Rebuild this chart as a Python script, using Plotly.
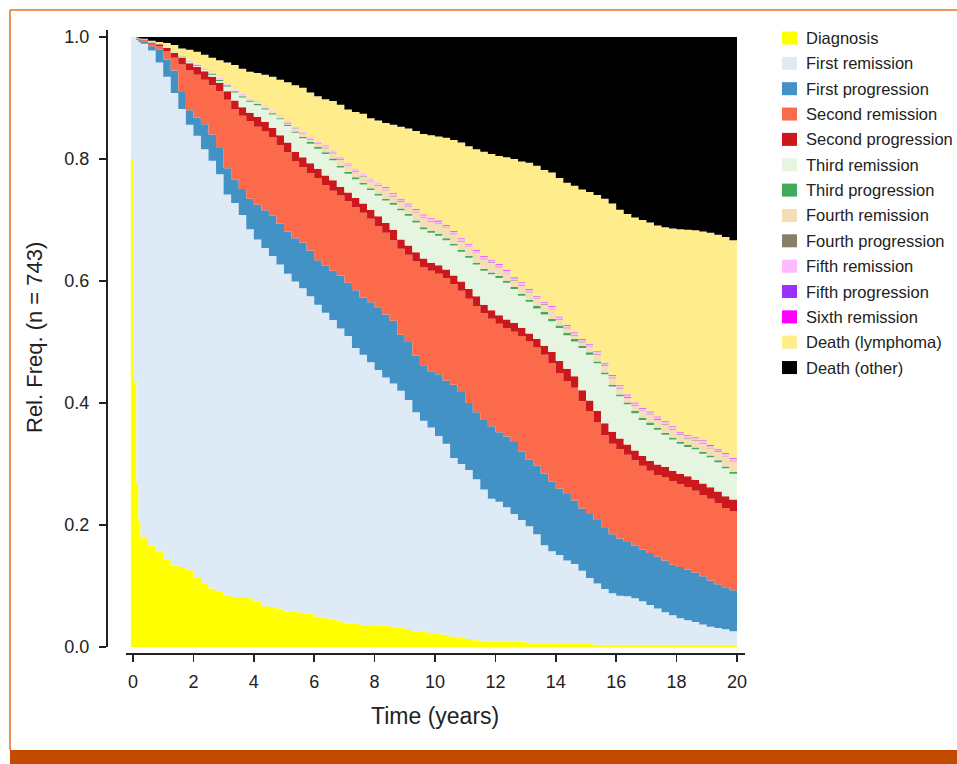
import numpy as np
import plotly.graph_objects as go

# ---------------- data ----------------
years = [-0.07, 0, 0.11, 0.18,
         0.25, 0.5, 0.75, 1, 1.25, 1.5, 1.75, 2,
         2.25, 2.5, 2.75, 3, 3.25, 3.5, 3.75, 4,
         4.25, 4.5, 4.75, 5, 5.25, 5.5, 5.75, 6,
         6.25, 6.5, 6.75, 7, 7.25, 7.5, 7.75, 8,
         8.25, 8.5, 8.75, 9, 9.25, 9.5, 9.75, 10,
         10.25, 10.5, 10.75, 11, 11.25, 11.5, 11.75, 12,
         12.25, 12.5, 12.75, 13, 13.25, 13.5, 13.75, 14,
         14.25, 14.5, 14.75, 15, 15.25, 15.5, 15.75, 16,
         16.25, 16.5, 16.75, 17, 17.25, 17.5, 17.75, 18,
         18.25, 18.5, 18.75, 19, 19.25, 19.5, 19.75, 20]

# upper edge (cumulative relative frequency) of each state band
diagnosis_top = [0.80, 0.435, 0.269, 0.205,
    0.180, 0.167, 0.157, 0.143, 0.133, 0.131, 0.126, 0.113,
    0.104, 0.096, 0.090, 0.085, 0.082, 0.082, 0.080, 0.074,
    0.067, 0.066, 0.063, 0.058, 0.058, 0.056, 0.055, 0.050,
    0.047, 0.045, 0.041, 0.038, 0.038, 0.036, 0.036, 0.035,
    0.035, 0.033, 0.032, 0.028, 0.026, 0.025, 0.023, 0.022,
    0.020, 0.017, 0.016, 0.013, 0.011, 0.009, 0.009, 0.009,
    0.009, 0.009, 0.009, 0.006, 0.006, 0.006, 0.006, 0.006,
    0.006, 0.006, 0.006, 0.005, 0.003, 0.003, 0.003, 0.003,
    0.003, 0.003, 0.003, 0.003, 0.003, 0.003, 0.003, 0.003,
    0.003, 0.003, 0.003, 0.003, 0.003, 0.003, 0.003, 0.003]

first_remission_top = [1.0, 1.0, 0.995, 0.992,
    0.989, 0.978, 0.958, 0.935, 0.908, 0.882, 0.856, 0.838,
    0.816, 0.797, 0.775, 0.742, 0.728, 0.708, 0.685, 0.668,
    0.654, 0.641, 0.627, 0.612, 0.599, 0.588, 0.575, 0.561,
    0.548, 0.536, 0.522, 0.510, 0.490, 0.479, 0.467, 0.454,
    0.442, 0.432, 0.420, 0.405, 0.385, 0.371, 0.360, 0.346,
    0.333, 0.310, 0.300, 0.290, 0.275, 0.258, 0.243, 0.238,
    0.229, 0.218, 0.208, 0.198, 0.185, 0.167, 0.157, 0.151,
    0.142, 0.136, 0.125, 0.113, 0.104, 0.095, 0.088, 0.084,
    0.083, 0.080, 0.075, 0.069, 0.063, 0.057, 0.052, 0.047,
    0.044, 0.041, 0.037, 0.033, 0.031, 0.029, 0.026, 0.025]

first_progression_top = [1.0, 1.0, 0.997, 0.995,
    0.993, 0.985, 0.979, 0.963, 0.945, 0.910, 0.880, 0.868,
    0.857, 0.840, 0.818, 0.785, 0.766, 0.751, 0.735, 0.725,
    0.716, 0.707, 0.694, 0.681, 0.670, 0.663, 0.650, 0.634,
    0.625, 0.617, 0.609, 0.597, 0.585, 0.573, 0.565, 0.557,
    0.545, 0.535, 0.512, 0.500, 0.478, 0.462, 0.452, 0.447,
    0.437, 0.430, 0.418, 0.400, 0.385, 0.372, 0.362, 0.352,
    0.345, 0.336, 0.320, 0.307, 0.297, 0.284, 0.271, 0.260,
    0.251, 0.240, 0.227, 0.218, 0.208, 0.195, 0.185, 0.178,
    0.172, 0.166, 0.160, 0.154, 0.148, 0.142, 0.135, 0.131,
    0.127, 0.122, 0.116, 0.109, 0.103, 0.098, 0.093, 0.088]

second_remission_top = [1.0, 1.0, 0.998, 0.997,
    0.995, 0.989, 0.985, 0.977, 0.966, 0.955, 0.945, 0.938,
    0.930, 0.921, 0.911, 0.897, 0.882, 0.871, 0.862, 0.853,
    0.845, 0.836, 0.823, 0.811, 0.796, 0.787, 0.777, 0.769,
    0.757, 0.748, 0.740, 0.731, 0.721, 0.712, 0.702, 0.690,
    0.679, 0.667, 0.653, 0.643, 0.632, 0.623, 0.617, 0.612,
    0.605, 0.595, 0.584, 0.571, 0.559, 0.547, 0.538, 0.530,
    0.523, 0.517, 0.510, 0.501, 0.491, 0.479, 0.465, 0.449,
    0.436, 0.425, 0.403, 0.386, 0.368, 0.347, 0.333, 0.324,
    0.315, 0.306, 0.297, 0.289, 0.282, 0.278, 0.272, 0.267,
    0.262, 0.256, 0.249, 0.243, 0.236, 0.228, 0.222, 0.218]

second_progression_top = [1.0, 1.0, 0.998, 0.997,
    0.996, 0.991, 0.988, 0.982, 0.974, 0.966, 0.957, 0.951,
    0.944, 0.935, 0.925, 0.911, 0.896, 0.885, 0.876, 0.869,
    0.861, 0.851, 0.839, 0.827, 0.812, 0.803, 0.793, 0.784,
    0.773, 0.765, 0.754, 0.745, 0.736, 0.727, 0.717, 0.706,
    0.695, 0.684, 0.668, 0.658, 0.647, 0.637, 0.630, 0.626,
    0.619, 0.609, 0.599, 0.587, 0.575, 0.561, 0.552, 0.544,
    0.537, 0.531, 0.523, 0.514, 0.505, 0.494, 0.484, 0.469,
    0.456, 0.444, 0.421, 0.404, 0.387, 0.367, 0.353, 0.342,
    0.332, 0.322, 0.313, 0.305, 0.299, 0.295, 0.289, 0.284,
    0.280, 0.274, 0.268, 0.262, 0.255, 0.247, 0.242, 0.238]

third_progression_top = [1.0, 1.0, 0.998, 0.997,
    0.996, 0.992, 0.989, 0.983, 0.976, 0.968, 0.960, 0.954,
    0.948, 0.940, 0.930, 0.921, 0.911, 0.903, 0.896, 0.890,
    0.883, 0.875, 0.867, 0.856, 0.845, 0.836, 0.828, 0.820,
    0.811, 0.801, 0.789, 0.779, 0.770, 0.761, 0.752, 0.743,
    0.735, 0.728, 0.719, 0.710, 0.699, 0.688, 0.682, 0.677,
    0.670, 0.661, 0.651, 0.641, 0.630, 0.620, 0.614, 0.608,
    0.600, 0.590, 0.579, 0.569, 0.559, 0.549, 0.538, 0.527,
    0.515, 0.505, 0.494, 0.483, 0.468, 0.450, 0.430, 0.414,
    0.401, 0.387, 0.376, 0.368, 0.359, 0.351, 0.343, 0.336,
    0.331, 0.327, 0.320, 0.314, 0.306, 0.296, 0.287, 0.280]

all_states_top = [1.0, 1.0, 0.999, 0.998,
    0.997, 0.994, 0.990, 0.984, 0.977, 0.970, 0.962, 0.956,
    0.950, 0.942, 0.933, 0.924, 0.914, 0.907, 0.901, 0.895,
    0.888, 0.880, 0.872, 0.862, 0.853, 0.845, 0.836, 0.829,
    0.822, 0.814, 0.803, 0.793, 0.784, 0.776, 0.768, 0.761,
    0.754, 0.744, 0.735, 0.727, 0.718, 0.709, 0.703, 0.699,
    0.692, 0.682, 0.670, 0.661, 0.651, 0.641, 0.635, 0.628,
    0.618, 0.606, 0.598, 0.587, 0.576, 0.566, 0.559, 0.542,
    0.528, 0.516, 0.505, 0.497, 0.485, 0.466, 0.446, 0.429,
    0.414, 0.401, 0.392, 0.386, 0.378, 0.370, 0.362, 0.353,
    0.347, 0.344, 0.339, 0.331, 0.325, 0.318, 0.310, 0.307]

death_lymphoma_top = [1.0, 1.0, 0.999, 0.998,
    0.997, 0.994, 0.992, 0.990, 0.987, 0.981, 0.979, 0.976,
    0.971, 0.966, 0.962, 0.958, 0.954, 0.948, 0.943, 0.941,
    0.938, 0.935, 0.930, 0.926, 0.921, 0.917, 0.909, 0.903,
    0.898, 0.895, 0.889, 0.881, 0.877, 0.874, 0.867, 0.863,
    0.859, 0.856, 0.853, 0.850, 0.846, 0.841, 0.839, 0.837,
    0.835, 0.831, 0.827, 0.821, 0.816, 0.812, 0.808, 0.805,
    0.803, 0.800, 0.796, 0.794, 0.789, 0.782, 0.778, 0.769,
    0.761, 0.756, 0.750, 0.746, 0.741, 0.735, 0.727, 0.717,
    0.710, 0.704, 0.700, 0.696, 0.691, 0.688, 0.686, 0.685,
    0.684, 0.683, 0.681, 0.679, 0.676, 0.672, 0.667, 0.665]

# thin bands: share of patients in each state
third_progression = [0, 0, 0, 0,
    0, 0, 0, 0, 0, 0.001, 0.001, 0.001,
    0.001, 0.002, 0.002, 0.002, 0.002, 0.002, 0.002, 0.002,
    0.002, 0.002, 0.002, 0.002, 0.002, 0.002, 0.003, 0.003,
    0.003, 0.003, 0.003, 0.003, 0.003, 0.003, 0.003, 0.003,
    0.003, 0.003, 0.003, 0.003, 0.003, 0.003, 0.003, 0.003,
    0.003, 0.003, 0.003, 0.003, 0.003, 0.003, 0.003, 0.003,
    0.003, 0.003, 0.003, 0.003, 0.004, 0.004, 0.004, 0.004,
    0.004, 0.004, 0.004, 0.004, 0.003, 0.003, 0.003, 0.003,
    0.003, 0.004, 0.004, 0.004, 0.003, 0.003, 0.003, 0.003,
    0.003, 0.003, 0.003, 0.003, 0.003, 0.003, 0.003, 0.003]

fourth_progression = [0, 0, 0, 0,
    0, 0, 0, 0, 0, 0, 0, 0,
    0, 0, 0, 0, 0, 0, 0, 0,
    0, 0, 0, 0.001, 0.001, 0.001, 0.001, 0.001,
    0.001, 0.001, 0.001, 0.001, 0.001, 0.001, 0.001, 0.001,
    0.001, 0.001, 0.001, 0.001, 0.001, 0.001, 0.001, 0.001,
    0.001, 0.001, 0.001, 0.001, 0.001, 0.001, 0.001, 0.001,
    0.001, 0.001, 0.001, 0.001, 0.001, 0.001, 0.001, 0.001,
    0.001, 0.001, 0.001, 0.001, 0.001, 0.001, 0.001, 0.001,
    0.001, 0.001, 0.001, 0.001, 0.001, 0.001, 0.001, 0.001,
    0.001, 0.001, 0.001, 0.001, 0.001, 0.001, 0.001, 0.001]

fifth_remission = [0, 0, 0, 0,
    0, 0.001, 0.001, 0.001, 0.001, 0.001, 0.001, 0.001,
    0.001, 0.002, 0.002, 0.002, 0.002, 0.002, 0.002, 0.002,
    0.002, 0.002, 0.002, 0.003, 0.003, 0.003, 0.003, 0.003,
    0.003, 0.003, 0.003, 0.003, 0.003, 0.003, 0.003, 0.003,
    0.003, 0.003, 0.003, 0.003, 0.003, 0.003, 0.003, 0.003,
    0.003, 0.003, 0.003, 0.003, 0.003, 0.003, 0.003, 0.003,
    0.003, 0.003, 0.003, 0.003, 0.003, 0.003, 0.003, 0.003,
    0.003, 0.003, 0.003, 0.003, 0.003, 0.003, 0.003, 0.003,
    0.003, 0.003, 0.003, 0.003, 0.003, 0.003, 0.003, 0.003,
    0.003, 0.003, 0.003, 0.003, 0.003, 0.003, 0.003, 0.003]

fifth_progression = [0, 0, 0, 0,
    0, 0, 0, 0, 0, 0, 0, 0,
    0, 0, 0, 0, 0, 0, 0, 0,
    0, 0, 0, 0, 0, 0, 0, 0,
    0.0005, 0.0005, 0.0005, 0.0005, 0.0005, 0.0005, 0.0005, 0.0005,
    0.0005, 0.0005, 0.0005, 0.0005, 0.0005, 0.0005, 0.0005, 0.0005,
    0.0005, 0.0005, 0.0005, 0.0005, 0.0005, 0.0005, 0.0005, 0.0005,
    0.0005, 0.0005, 0.0005, 0.0005, 0.0005, 0.0005, 0.0005, 0.0005,
    0.0005, 0.0005, 0.0005, 0.0005, 0.0005, 0.0005, 0.0005, 0.0005,
    0.0005, 0.0005, 0.0005, 0.0005, 0.0005, 0.0005, 0.0005, 0.0005,
    0.0005, 0.0005, 0.0005, 0.0005, 0.0005, 0.0005, 0.0005, 0.0005]

sixth_remission = [0, 0, 0, 0,
    0, 0, 0, 0, 0, 0, 0, 0,
    0, 0, 0, 0, 0, 0, 0, 0,
    0, 0, 0, 0, 0, 0, 0, 0,
    0, 0, 0, 0, 0, 0, 0, 0,
    0.0008, 0.0008, 0.0008, 0.0008, 0.0008, 0.0008, 0.0008, 0.0008,
    0.0008, 0.0008, 0.0008, 0.0008, 0.0008, 0.0008, 0.0008, 0.0008,
    0.0008, 0.0008, 0.0008, 0.0008, 0.0008, 0.0008, 0.0008, 0.0008,
    0.0008, 0.0008, 0.0008, 0.0008, 0.0008, 0.0008, 0.0008, 0.0008,
    0.0008, 0.0008, 0.0008, 0.0008, 0.0008, 0.0008, 0.0008, 0.0008,
    0.0008, 0.0008, 0.0008, 0.0008, 0.0008, 0.0008, 0.0008, 0.0008]

state_names = ["Diagnosis", "First remission", "First progression",
               "Second remission", "Second progression", "Third remission",
               "Third progression", "Fourth remission", "Fourth progression",
               "Fifth remission", "Fifth progression", "Sixth remission",
               "Death (lymphoma)", "Death (other)"]
state_colors = ["#FFFF00", "#DEEBF7", "#4292C6", "#FB6A4A", "#CB181D",
                "#E5F5E0", "#41AB5D", "#F5DEB3", "#8B7E66", "#FFBBFF",
                "#9B30FF", "#FF00FF", "#FFEC8B", "#000000"]

arrays = [diagnosis_top, first_remission_top, first_progression_top,
          second_remission_top, second_progression_top, third_progression_top,
          all_states_top, death_lymphoma_top, third_progression,
          fourth_progression, fifth_remission, fifth_progression, sixth_remission]
for a in arrays:
    assert len(a) == len(years), len(a)

# ---------------- build band edges ----------------
B5 = np.array(second_progression_top)
B7 = np.array(third_progression_top)
B12 = np.array(all_states_top)
tp = np.array(third_progression)
fp = np.array(fourth_progression)
f5r = np.array(fifth_remission)
f5p = np.array(fifth_progression)
s6r = np.array(sixth_remission)

tops = [
    np.array(diagnosis_top),
    np.array(first_remission_top),
    np.array(first_progression_top),
    np.array(second_remission_top),
    B5,
    B7 - tp,
    B7,
    B12 - fp - f5r - f5p - s6r,
    B12 - f5r - f5p - s6r,
    B12 - f5p - s6r,
    B12 - s6r,
    B12,
    np.array(death_lymphoma_top),
    np.ones(len(years)),
]
prev = np.zeros(len(years))
for i in range(len(tops)):
    tops[i] = np.maximum(tops[i], prev)
    prev = tops[i]

fig = go.Figure()
for i, (name, col, top) in enumerate(zip(state_names, state_colors, tops)):
    fig.add_trace(go.Scatter(
        x=years, y=top, name=name, mode="lines",
        line=dict(width=0, shape="hv", color=col),
        fill="tozeroy" if i == 0 else "tonexty",
        fillcolor=col, showlegend=False, hoverinfo="skip"))

# ---------------- layout ----------------
W, H = 957, 764
L, R, T, B = 107, 745, 30, 654   # plot area in pixels


def px(x):
    return (x - L) / (R - L)


def py(y):
    return (B - y) / (B - T)


FONT = "Liberation Sans, Arial, Helvetica, sans-serif"
INK = "#222222"

fig.update_layout(
    width=W, height=H,
    margin=dict(l=L, r=W - R, t=T, b=H - B, pad=0),
    paper_bgcolor="white", plot_bgcolor="white",
    font=dict(family=FONT, color=INK),
    showlegend=False,
    xaxis=dict(range=[-0.861, 20.265], tickvals=list(range(0, 21, 2)),
               ticks="outside", ticklen=7, tickwidth=1.5, tickcolor=INK,
               showline=False, showgrid=False, zeroline=False,
               tickfont=dict(size=18, family=FONT, color=INK),
               ticklabelstandoff=4),
    yaxis=dict(range=[-0.01148, 1.01148],
               tickvals=[0, 0.2, 0.4, 0.6, 0.8, 1.0],
               ticktext=["0.0", "0.2", "0.4", "0.6", "0.8", "1.0"],
               ticks="outside", ticklen=7, tickwidth=1.5, tickcolor=INK,
               showline=False, showgrid=False, zeroline=False,
               tickfont=dict(size=18, family=FONT, color=INK),
               ticklabelstandoff=6),
)

shapes = []
# axis lines
shapes.append(dict(type="line", xref="paper", yref="paper",
                   x0=px(107), x1=px(107), y0=py(647), y1=py(30),
                   line=dict(color=INK, width=2)))
shapes.append(dict(type="line", xref="paper", yref="paper",
                   x0=px(126), x1=px(745), y0=py(654), y1=py(654),
                   line=dict(color=INK, width=2)))
# page frame
FRAME = "#E2702C"
shapes.append(dict(type="line", xref="paper", yref="paper",
                   x0=px(10), x1=px(957), y0=py(10), y1=py(10),
                   line=dict(color=FRAME, width=1.5)))
shapes.append(dict(type="line", xref="paper", yref="paper",
                   x0=px(10), x1=px(10), y0=py(10), y1=py(750),
                   line=dict(color=FRAME, width=1.5)))
shapes.append(dict(type="rect", xref="paper", yref="paper",
                   x0=px(10), x1=px(957), y0=py(750), y1=py(764),
                   fillcolor="#C24B00", line=dict(width=0)))

annotations = []
# legend
for i, (name, col) in enumerate(zip(state_names, state_colors)):
    cy = 38 + 25.35 * i
    shapes.append(dict(type="rect", xref="paper", yref="paper",
                       x0=px(782), x1=px(797), y0=py(cy + 6.5), y1=py(cy - 6.5),
                       fillcolor=col, line=dict(width=0)))
    annotations.append(dict(xref="paper", yref="paper", x=px(804), y=py(cy),
                            xanchor="left", yanchor="middle", showarrow=False,
                            text=name, font=dict(size=16.5, family=FONT, color=INK)))

# axis titles
annotations.append(dict(xref="paper", yref="paper", x=px(34), y=py(338),
                        text="Rel. Freq. (n = 743)", textangle=-90, showarrow=False,
                        xanchor="center", yanchor="middle",
                        font=dict(size=22, family=FONT, color=INK)))
annotations.append(dict(xref="paper", yref="paper", x=px(435), y=py(716),
                        text="Time (years)", showarrow=False,
                        xanchor="center", yanchor="middle",
                        font=dict(size=23, family=FONT, color=INK)))

fig.update_layout(shapes=shapes, annotations=annotations)
fig.write_html("out.html",
               config={"displayModeBar": False, "staticPlot": True},
               post_script="document.body.style.margin='0';"
                           "document.body.style.overflow='hidden';")
